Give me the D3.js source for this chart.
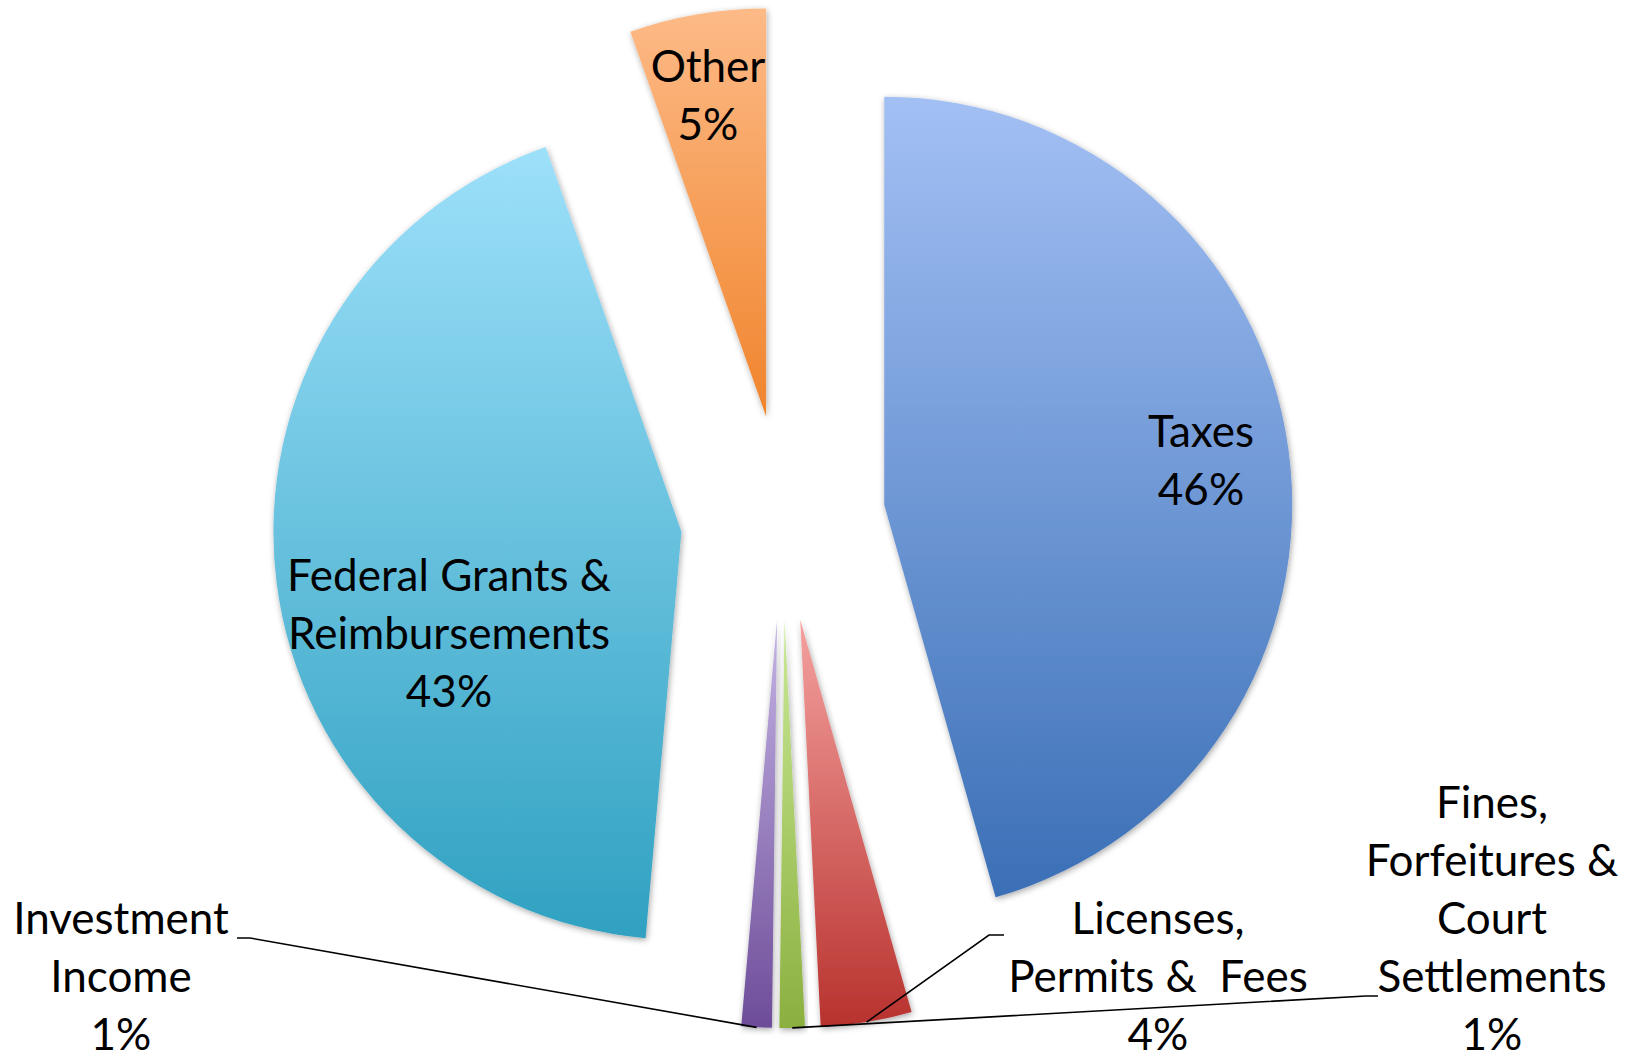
<!DOCTYPE html>
<html>
<head>
<meta charset="utf-8">
<script src="https://cdn.jsdelivr.net/npm/d3@7"></script>
<style>
  html, body { margin: 0; background: #fff; }
  svg text { font-family: Lato, "Open Sans", sans-serif; font-size: 44px; fill: #000; }
</style>
</head>
<body>
<svg width="1636" height="1061"></svg>
<script>
// dados (percentuais)
const categorias = ["Taxes", "Licenses, Permits & Fees", "Fines, Forfeitures & Court Settlements",
                    "Investment Income", "Federal Grants & Reimbursements", "Other"];
const valores = [45.6, 3.6, 1.0, 1.2, 43.2, 5.4];
const rotulos = [["Taxes"], ["Licenses,", "Permits &  Fees"], ["Fines,", "Forfeitures &", "Court", "Settlements"],
                 ["Investment", "Income"], ["Federal Grants &", "Reimbursements"], ["Other"]];

// estilo
const cores_topo = ["#A3C0F4", "#F4A19F", "#C9E996", "#C4B4E4", "#9DE0FA", "#FDBA87"];
const cores_base = ["#3A6FB6", "#B8322E", "#8BB03F", "#6E4C99", "#30A1C1", "#F0842C"];

// layout
const centro = [782.5, 512];
const raio = 408;
// as fatias foram puxadas à mão no original, nem sempre no bissetor
const explosao_dist = [102, 109, 108, 108, 103, 97];
const explosao_giro = [3.8, 0, 0, 0, -3.9, 0];
const pos_rotulo = [[1201, 447], [1158, 934], [1492, 818], [121, 934], [449, 591], [708, 82]];
const linha_altura = 58;
// pontas das linhas de chamada: [cotovelo, fim]
const chamadas = {
  1: [[989, 935], [1004, 935]],
  2: [[1366, 996], [1378, 996]],
  3: [[250, 938], [237, 938]]
};

const svg = d3.select("svg");
const rad = Math.PI / 180;

const pie = d3.pie().sort(null).value(d => d.valor);
const arco = d3.arc().innerRadius(0).outerRadius(raio);

const dados = categorias.map((c, i) => ({ cat: c, valor: valores[i], i: i }));
const fatias = pie(dados);
const total = d3.sum(valores);

let defs = svg.append("defs");

defs.append("filter")
    .attr("id", "sombra")
    .attr("x", "-10%").attr("y", "-10%").attr("width", "120%").attr("height", "120%")
  .append("feDropShadow")
    .attr("dx", 1).attr("dy", 2)
    .attr("stdDeviation", 3)
    .attr("flood-color", "#000")
    .attr("flood-opacity", 0.35);

fatias.forEach((d, i) => {
  let g = defs.append("linearGradient")
    .attr("id", "grad" + i)
    .attr("x1", 0).attr("y1", 0).attr("x2", 0).attr("y2", 1);
  g.append("stop").attr("offset", "0%").attr("stop-color", cores_topo[i]);
  g.append("stop").attr("offset", "100%").attr("stop-color", cores_base[i]);
});

function deslocamento(d, i) {
  let ang = (d.startAngle + d.endAngle) / 2 + explosao_giro[i] * rad;
  return [centro[0] + explosao_dist[i] * Math.sin(ang),
          centro[1] - explosao_dist[i] * Math.cos(ang)];
}

svg.append("g")
  .selectAll("path")
  .data(fatias)
  .join("path")
    .attr("transform", (d, i) => "translate(" + deslocamento(d, i) + ")")
    .attr("d", arco)
    .attr("fill", (d, i) => "url(#grad" + i + ")")
    .attr("filter", "url(#sombra)");

// linhas de chamada
Object.keys(chamadas).forEach(k => {
  let i = +k;
  let d = fatias[i];
  let ap = deslocamento(d, i);
  let meio = (d.startAngle + d.endAngle) / 2;
  let inicio = [ap[0] + raio * Math.sin(meio), ap[1] - raio * Math.cos(meio)];
  svg.append("path")
    .attr("d", d3.line()([inicio, chamadas[k][0], chamadas[k][1]]))
    .attr("fill", "none")
    .attr("stroke", "#000")
    .attr("stroke-width", 1.6);
});

// rótulos
let rot = svg.append("g")
  .selectAll("text")
  .data(fatias)
  .join("text")
    .attr("text-anchor", "middle")
    .style("white-space", "pre")
    .attr("x", (d, i) => pos_rotulo[i][0])
    .attr("y", (d, i) => pos_rotulo[i][1]);

rot.each(function(d, i) {
  let linhas = rotulos[i].concat([Math.round(d.data.valor / total * 100) + "%"]);
  d3.select(this)
    .selectAll("tspan")
    .data(linhas)
    .join("tspan")
      .attr("x", pos_rotulo[i][0])
      .attr("y", (l, j) => pos_rotulo[i][1] + j * linha_altura)
      .text(l => l);
});
</script>
</body>
</html>
